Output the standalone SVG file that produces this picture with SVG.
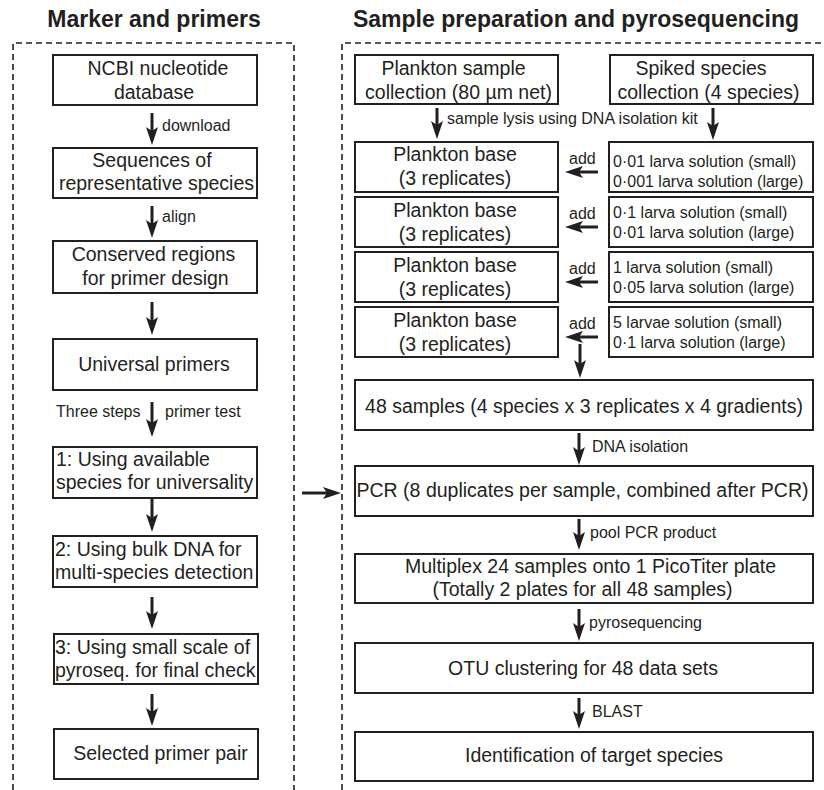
<svg xmlns="http://www.w3.org/2000/svg" width="824" height="790" viewBox="0 0 824 790">
<defs>
<style>
.bx{fill:#fff;stroke:#231f20;stroke-width:2}
.t{font-family:"Liberation Sans",Arial,sans-serif;font-size:19.5px;fill:#231f20}
.m{text-anchor:middle}
.s{font-family:"Liberation Sans",Arial,sans-serif;font-size:16px;fill:#231f20}
.h{font-family:"Liberation Sans",Arial,sans-serif;font-size:23px;font-weight:bold;fill:#231f20;text-anchor:middle}
.dash{stroke:#231f20;stroke-width:1.6;stroke-dasharray:6 4;fill:none}
.ar{stroke:#231f20;stroke-width:3;fill:none;marker-end:url(#ah)}
</style>
<marker id="ah" viewBox="0 0 18 12" refX="10" refY="6" markerWidth="18" markerHeight="12" markerUnits="userSpaceOnUse" orient="auto">
<path d="M0,0 L18,6 L0,12 L4,6 z" fill="#231f20"/>
</marker>
</defs>

<g id="titles">
<text class="h" x="154" y="27">Marker and primers</text>
<text class="h" x="576" y="27">Sample preparation and pyrosequencing</text>
</g>

<g id="panels">
<path class="dash" d="M13,790 V43 H294 V790"/>
<path class="dash" d="M342,790 V43 H824"/>
</g>

<g id="ncbi"><rect class="bx" x="53" y="55" width="204" height="50"/>
<text class="t m" x="158" y="75">NCBI nucleotide</text><text class="t m" x="154" y="99">database</text></g>
<g id="sequences"><rect class="bx" x="53" y="148" width="204" height="50"/>
<text class="t m" x="152" y="167">Sequences of</text><text class="t m" x="156.5" y="190">representative species</text></g>
<g id="conserved"><rect class="bx" x="53" y="241" width="204" height="52"/>
<text class="t m" x="153.5" y="261">Conserved regions</text><text class="t m" x="155.5" y="285">for primer design</text></g>
<g id="universal"><rect class="bx" x="53" y="339" width="204" height="51"/>
<text class="t m" x="154" y="371">Universal primers</text></g>
<g id="step1"><rect class="bx" x="53" y="447" width="204" height="51"/>
<text class="t" x="56" y="466">1: Using available</text><text class="t" x="56" y="489">species for universality</text></g>
<g id="step2"><rect class="bx" x="53" y="536" width="204" height="51"/>
<text class="t" x="55" y="556">2: Using bulk DNA for</text><text class="t" x="55" y="579">multi-species detection</text></g>
<g id="step3"><rect class="bx" x="54" y="634" width="204" height="50"/>
<text class="t" x="55" y="654">3: Using small scale of</text><text class="t" x="55" y="677">pyroseq. for final check</text></g>
<g id="selected"><rect class="bx" x="54" y="729" width="204" height="50"/>
<text class="t m" x="160.5" y="760">Selected primer pair</text></g>

<g id="plankton-sample"><rect class="bx" x="355" y="55" width="203" height="49"/>
<text class="t m" x="453.5" y="75">Plankton sample</text><text class="t m" x="458.5" y="99">collection (80 µm net)</text></g>
<g id="spiked"><rect class="bx" x="610" y="55" width="203" height="49"/>
<text class="t m" x="701" y="75">Spiked species</text><text class="t m" x="708.5" y="99">collection (4 species)</text></g>

<g id="base1"><rect class="bx" x="355" y="142" width="203" height="50"/>
<text class="t m" x="455" y="161">Plankton base</text><text class="t m" x="455" y="185">(3 replicates)</text></g>
<g id="base2"><rect class="bx" x="355" y="197" width="203" height="50"/>
<text class="t m" x="455" y="217">Plankton base</text><text class="t m" x="455" y="241">(3 replicates)</text></g>
<g id="base3"><rect class="bx" x="355" y="252" width="203" height="50"/>
<text class="t m" x="455" y="272">Plankton base</text><text class="t m" x="455" y="296">(3 replicates)</text></g>
<g id="base4"><rect class="bx" x="355" y="307" width="203" height="50"/>
<text class="t m" x="455" y="327">Plankton base</text><text class="t m" x="455" y="351">(3 replicates)</text></g>

<g id="sol1"><rect class="bx" x="609" y="142" width="204" height="50"/>
<text class="s" x="613" y="167">0·01 larva solution (small)</text><text class="s" x="613" y="187">0·001 larva solution (large)</text></g>
<g id="sol2"><rect class="bx" x="609" y="197" width="204" height="50"/>
<text class="s" x="613" y="218">0·1 larva solution (small)</text><text class="s" x="613" y="238">0·01 larva solution (large)</text></g>
<g id="sol3"><rect class="bx" x="609" y="252" width="204" height="50"/>
<text class="s" x="613" y="273">1 larva solution (small)</text><text class="s" x="613" y="293">0·05 larva solution (large)</text></g>
<g id="sol4"><rect class="bx" x="609" y="307" width="204" height="50"/>
<text class="s" x="613" y="328">5 larvae solution (small)</text><text class="s" x="613" y="348">0·1 larva solution (large)</text></g>

<g id="samples48"><rect class="bx" x="355" y="380" width="458" height="50"/>
<text class="t m" x="584" y="413">48 samples (4 species x 3 replicates x 4 gradients)</text></g>
<g id="pcr"><rect class="bx" x="355" y="466" width="458" height="50"/>
<text class="t m" x="582.5" y="497">PCR (8 duplicates per sample, combined after PCR)</text></g>
<g id="multiplex"><rect class="bx" x="355" y="554" width="458" height="49"/>
<text class="t m" x="590.5" y="573">Multiplex 24 samples onto 1 PicoTiter plate</text><text class="t m" x="582.5" y="596">(Totally 2 plates for all 48 samples)</text></g>
<g id="otu"><rect class="bx" x="355" y="643" width="458" height="50"/>
<text class="t m" x="583" y="675">OTU clustering for 48 data sets</text></g>
<g id="identification"><rect class="bx" x="355" y="732" width="458" height="49"/>
<text class="t m" x="594" y="762">Identification of target species</text></g>

<g id="connectors">
<line class="ar" x1="152" y1="113" x2="152" y2="137"/>
<line class="ar" x1="152" y1="206" x2="152" y2="230"/>
<line class="ar" x1="152" y1="302" x2="152" y2="327"/>
<line class="ar" x1="152" y1="402" x2="152" y2="429"/>
<line class="ar" x1="152" y1="499" x2="152" y2="524"/>
<line class="ar" x1="152" y1="597" x2="152" y2="621"/>
<line class="ar" x1="152" y1="694" x2="152" y2="718"/>
<line class="ar" x1="437" y1="108" x2="437" y2="131"/>
<line class="ar" x1="713" y1="108" x2="713" y2="132"/>
<line class="ar" x1="598" y1="172" x2="573" y2="172"/>
<line class="ar" x1="598" y1="227" x2="573" y2="227"/>
<line class="ar" x1="598" y1="282" x2="573" y2="282"/>
<line class="ar" x1="598" y1="337" x2="573" y2="337"/>
<line class="ar" x1="580" y1="344" x2="580" y2="370"/>
<line class="ar" x1="579" y1="433" x2="579" y2="457"/>
<line class="ar" x1="579" y1="519" x2="579" y2="542"/>
<line class="ar" x1="579" y1="609" x2="579" y2="633"/>
<line class="ar" x1="579" y1="698" x2="579" y2="721"/>
<line class="ar" x1="302" y1="493" x2="333" y2="493"/>
</g>

<g id="labels">
<text class="s" x="162" y="131">download</text>
<text class="s" x="162" y="222">align</text>
<text class="s" x="56" y="417">Three steps</text>
<text class="s" x="165" y="417">primer test</text>
<text class="s" x="447" y="124">sample lysis using DNA isolation kit</text>
<text class="s" x="569" y="164">add</text>
<text class="s" x="569" y="219">add</text>
<text class="s" x="569" y="274">add</text>
<text class="s" x="569" y="329">add</text>
<text class="s" x="592" y="452">DNA isolation</text>
<text class="s" x="590" y="538">pool PCR product</text>
<text class="s" x="589" y="628">pyrosequencing</text>
<text class="s" x="592" y="717">BLAST</text>
</g>
</svg>
